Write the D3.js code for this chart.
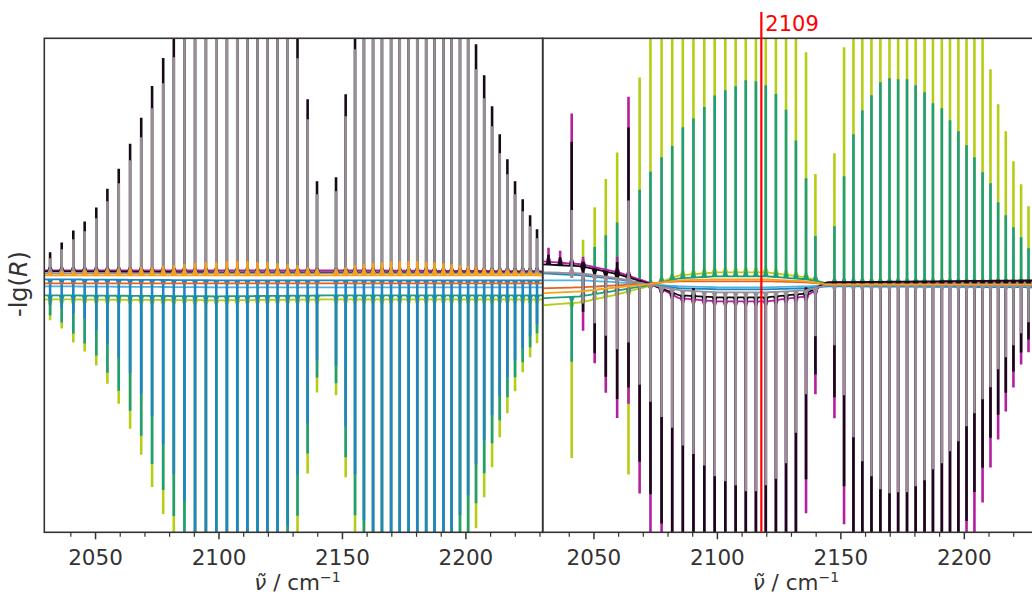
<!DOCTYPE html>
<html><head><meta charset="utf-8">
<script src="https://cdn.jsdelivr.net/npm/d3@7"></script>
<style>body{margin:0;background:#fff}svg{display:block}text{font-family:"DejaVu Sans",sans-serif}</style>
</head><body><svg id="c" width="1032" height="599"></svg>
<script>
// ---------------- DATA ----------------
const xDomain = [2029.45, 2231.3];
const majorTicks = [2050, 2100, 2150, 2200];
const minorTicks = [2040, 2060, 2070, 2080, 2090, 2110, 2120, 2130, 2140, 2160, 2170, 2180, 2190, 2210, 2220, 2230];
const markerPos = 2118;
const markerLabel = "2109";
const xLabel = "ν̃ / cm";
const yLabel = "-lg(R)";

// rovibrational line positions (P26..P1, R0..R24), cm-1
const linePos = [2031.8, 2036.5, 2041.2, 2045.8, 2050.5, 2055.0, 2059.6, 2064.2, 2068.7, 2073.1, 2077.6, 2081.9, 2086.2, 2090.5, 2094.9, 2099.1, 2103.4, 2107.6, 2111.7, 2115.8, 2119.8, 2123.9, 2128.0, 2132.0, 2136.1, 2139.9,
  2147.6, 2151.5, 2155.3, 2158.9, 2162.6, 2166.2, 2169.9, 2173.4, 2177.0, 2180.5, 2184.1, 2187.5, 2191.1, 2194.4, 2197.8, 2201.1, 2204.3, 2207.6, 2210.8, 2213.9, 2217.0, 2220.1, 2223.2, 2226.2, 2229.0];

// ---- left panel: baselines (arbitrary units) at anchor wavenumbers
const anchorsL = [2029, 2100, 2150, 2232];
const magentaBaseL = [15, 15, 15, 14];
const blackBaseL = [14, 13, 13, 13];
const grayBaseL = [12, 12, 12, 12];
const orangeBaseL = [10, 10, 10, 10];
const blueBaseL = [6, 5, 5, 5];
const darkorangeBaseL = [2, 2, 2, 2];
const lightblueBaseL = [-1, -2, -2, -2];
const tealBaseL = [-10, -11, -10, -10];
const ygBaseL = [-14, -15, -14, -14];
const grayUpL = [15, 24, 34, 42, 55, 72, 90, 113, 136, 165, 190, 216, 260, 300, 330, 360, 380, 390, 390, 380, 360, 330, 285, 215, 154, 79,
  82, 157, 224, 280, 330, 370, 395, 410, 410, 400, 385, 360, 330, 300, 270, 240, 204, 175, 147, 120, 99, 79, 62, 47, 35];
const blackUpL = [19, 29, 41, 50, 64, 83, 103, 128, 154, 186, 214, 248, 295, 340, 375, 405, 430, 440, 440, 430, 405, 375, 325, 250, 173, 91,
  95, 178, 255, 320, 375, 420, 445, 460, 460, 450, 435, 405, 375, 340, 305, 270, 228, 197, 166, 138, 113, 91, 73, 57, 43];
const orangeUpL = [3, 4, 4, 5, 5, 6, 6, 7, 8, 8, 9, 10, 11, 12, 13, 13, 14, 14, 14, 13, 13, 12, 11, 10, 8, 6,
  6, 8, 10, 11, 12, 13, 14, 14, 14, 14, 13, 13, 12, 11, 10, 9, 8, 7, 6, 6, 5, 5, 4, 4, 3];
const tealDownL = [20, 27, 38, 48, 60, 77, 95, 115, 140, 168, 194, 220, 250, 290, 320, 345, 360, 370, 370, 360, 340, 310, 270, 220, 158, 82,
  88, 162, 220, 275, 320, 350, 370, 380, 380, 372, 360, 340, 315, 290, 265, 245, 208, 178, 148, 125, 102, 82, 67, 52, 38];
const ygDownL = [21, 29, 43, 52, 66, 84, 104, 129, 155, 187, 214, 245, 275, 315, 345, 370, 385, 395, 395, 385, 365, 335, 295, 250, 174, 93,
  96, 178, 250, 300, 345, 375, 395, 405, 405, 398, 385, 365, 340, 315, 290, 265, 229, 198, 168, 138, 114, 92, 73, 58, 44];
const blueDownL = [26, 29, 34, 39, 51, 64, 78, 93, 114, 136, 164, 194, 221, 255, 285, 305, 320, 330, 330, 320, 305, 280, 245, 194, 143, 80,
  85, 146, 194, 240, 280, 305, 320, 330, 330, 325, 315, 300, 280, 258, 235, 215, 184, 160, 135, 116, 97, 80, 68, 56, 44];

// ---- right panel
const anchorsR = [2029, 2045, 2060, 2072, 2085, 2100, 2120, 2136, 2145, 2232];
const magentaBaseR = [24, 21, 13, 3, -13, -16, -16, -11, 3, 4];
const blackBaseR = [21, 19, 11, 2, -10, -12, -12, -8, 3, 5];
const grayBaseR = [13, 12, 7, 1, -5, -7, -7, -5, 0, 0];
const blueBaseR = [12, 10, 6, 1, -3, -4, -4, -3, -1, -2];
const lightblueBaseR = [5, 5, 3, 1, -1, -2, -2, -1, 0, 0];
const darkorangeBaseR = [-3, -2, 0, 2, 4, 4, 4, 3, 1, 1];
const orangeBaseR = [-8, -6, -2, 1, 5, 6, 6, 4, 1, 1];
const tealBaseR = [-13, -11, -5, 0, 7, 9, 9, 6, 2, 2];
const ygBaseR = [-20, -17, -9, -1, 10, 13, 13, 8, 2, 2];

const magentaUpR = [14, 12, 150, 8, 0, 0, 15, 179, 0, 0, 0, 0, 0, 10, 0, 0, 0, 0, 0, 0, 0, 0, 0, 0, 8, 0,
  0, 0, 0, 0, 0, 0, 0, 0, 0, 0, 0, 0, 0, 0, 0, 0, 0, 0, 0, 0, 0, 0, 0, 0, 0];
const magentaDownR = [0, 0, 0, 66, 96, 123, 146, 128, 214, 250, 285, 320, 350, 380, 400, 420, 430, 440, 440, 430, 420, 400, 370, 330, 217, 104,
  136, 242, 300, 350, 390, 420, 440, 445, 445, 440, 425, 405, 380, 350, 320, 290, 255, 221, 186, 158, 130, 106, 83, 71, 60];
const blackUpR = [10, 8, 124, 5, 0, 0, 12, 150, 0, 0, 0, 0, 0, 8, 0, 0, 0, 0, 0, 0, 0, 0, 0, 0, 6, 0,
  0, 0, 0, 0, 0, 0, 0, 0, 0, 0, 0, 0, 0, 0, 0, 0, 0, 0, 0, 0, 0, 0, 0, 0, 0];
const blackDownR = [0, 0, 0, 45, 84, 105, 125, 110, 181, 210, 235, 265, 290, 315, 335, 350, 360, 365, 365, 360, 350, 335, 310, 270, 186, 86,
  115, 204, 265, 290, 325, 350, 365, 370, 370, 365, 355, 340, 320, 295, 270, 240, 211, 187, 157, 134, 112, 91, 72, 59, 48];
const grayUpR = [0, 0, 63, 0, 0, 0, 0, 80, 0, 0, 0, 0, 0, 0, 0, 0, 0, 0, 0, 0, 0, 0, 0, 0, 0, 0,
  0, 0, 0, 0, 0, 0, 0, 0, 0, 0, 0, 0, 0, 0, 0, 0, 0, 0, 0, 0, 0, 0, 0, 0, 0];
const grayDownR = [0, 0, 5, 30, 48, 59, 71, 62, 102, 117, 130, 139, 155, 163, 174, 184, 189, 193, 199, 199, 193, 187, 172, 142, 104, 48,
  60, 110, 152, 176, 191, 204, 208, 207, 207, 201, 195, 184, 178, 166, 156, 141, 128, 114, 102, 84, 72, 60, 48, 37, 28];
const tealUpR = [0, 0, 0, 32, 47, 57, 68, 0, 97, 113, 125, 134, 151, 159, 170, 181, 186, 190, 196, 195, 191, 183, 168, 138, 101, 45,
  57, 107, 149, 173, 188, 201, 205, 204, 204, 198, 191, 180, 175, 163, 152, 138, 126, 111, 100, 81, 68, 56, 46, 35, 27];
const tealDownR = [0, 0, 65, 0, 0, 0, 0, 62, 0, 0, 0, 0, 0, 0, 0, 0, 0, 0, 0, 0, 0, 0, 0, 0, 0, 0,
  0, 0, 0, 0, 0, 0, 0, 0, 0, 0, 0, 0, 0, 0, 0, 0, 0, 0, 0, 0, 0, 0, 0, 0, 0];
const ygUpR = [0, 0, 0, 62, 92, 118, 142, 0, 211, 247, 280, 310, 340, 370, 395, 415, 425, 435, 440, 435, 425, 405, 375, 330, 225, 106,
  130, 236, 300, 345, 380, 410, 425, 430, 430, 420, 410, 395, 380, 355, 330, 300, 275, 250, 214, 179, 152, 122, 99, 77, 60];
const ygDownR = [0, 0, 155, 0, 0, 0, 0, 183, 0, 0, 0, 0, 0, 0, 0, 0, 0, 0, 0, 0, 0, 0, 0, 0, 0, 0,
  0, 0, 0, 0, 0, 0, 0, 0, 0, 0, 0, 0, 0, 0, 0, 0, 0, 0, 0, 0, 0, 0, 0, 0, 0];

// ---------------- STYLE ----------------
const colors = {
  yg: "#b5cd14", teal: "#1f9e7b", lightblue: "#4fb2e2", blue: "#1f86c3",
  darkorange: "#e8621c", magenta: "#b41f9f", black: "#160a16", gray: "#978e96", orange: "#f7a11a"
};
const order = ["yg", "teal", "lightblue", "blue", "darkorange", "magenta", "black", "gray", "orange"];

const panelsData = [
  { anchors: anchorsL, series: {
      yg: {base: ygBaseL, down: ygDownL}, teal: {base: tealBaseL, down: tealDownL},
      lightblue: {base: lightblueBaseL}, blue: {base: blueBaseL, down: blueDownL},
      darkorange: {base: darkorangeBaseL}, magenta: {base: magentaBaseL},
      black: {base: blackBaseL, up: blackUpL}, gray: {base: grayBaseL, up: grayUpL},
      orange: {base: orangeBaseL, up: orangeUpL} } },
  { anchors: anchorsR, series: {
      yg: {base: ygBaseR, up: ygUpR, down: ygDownR}, teal: {base: tealBaseR, up: tealUpR, down: tealDownR},
      lightblue: {base: lightblueBaseR}, blue: {base: blueBaseR},
      darkorange: {base: darkorangeBaseR}, magenta: {base: magentaBaseR, up: magentaUpR, down: magentaDownR},
      black: {base: blackBaseR, up: blackUpR, down: blackDownR}, gray: {base: grayBaseR, up: grayUpR, down: grayDownR},
      orange: {base: orangeBaseR} } }
];

// ---------------- DRAW ----------------
const svg = d3.select("#c");
const plotTop = 38.3, plotBottom = 532.3;
const panelX = [[44.3, 542.7], [542.7, 1041.1]];
const y = d3.scaleLinear().domain([-247, 247]).range([plotBottom, plotTop]);
const axisColor = "#333";
const fontSize = 21.5;

panelsData.forEach((pd, pi) => {
  const [x0, x1] = panelX[pi];
  const x = d3.scaleLinear().domain(xDomain).range([x0, x1]);
  const clipId = "clip" + pi;
  svg.append("clipPath").attr("id", clipId).append("rect")
    .attr("x", x0).attr("y", plotTop).attr("width", x1 - x0).attr("height", plotBottom - plotTop);
  const g = svg.append("g").attr("clip-path", `url(#${clipId})`);

  order.forEach(key => {
    const s = pd.series[key];
    if (!s) return;
    const col = colors[key];
    const base = d3.scaleLinear().domain(pd.anchors).range(s.base).clamp(true);
    const xs = Array.from(new Set([...pd.anchors, ...linePos])).sort((a, b) => a - b);
    const pts = xs.map(v => [v, base(v)]);
    const sg = g.append("g");
    sg.append("path")
      .attr("d", d3.line().x(d => x(d[0])).y(d => y(d[1])).curve(d3.curveMonotoneX)(pts))
      .attr("fill", "none").attr("stroke", col).attr("stroke-width", 1.8);
    const spikes = linePos.map((v, i) => ({v, up: s.up ? s.up[i] : 0, dn: s.down ? s.down[i] : 0}))
      .filter(d => d.up > 0 || d.dn > 0);
    sg.selectAll("path.spk").data(spikes).join("path").attr("class", "spk")
      .attr("fill", col)
      .attr("d", d => {
        const b = base(d.v), px = x(d.v), yb = y(b), yt = y(b + d.up), ybt = y(b - d.dn);
        const hw = 1.3, fw = 3.0;
        const fu = Math.min(5, yb - yt), fd = Math.min(5, ybt - yb);
        return `M${px - fw},${yb}L${px - hw},${yb - fu}L${px - hw},${yt}L${px + hw},${yt}L${px + hw},${yb - fu}L${px + fw},${yb}` +
               `L${px + hw},${yb + fd}L${px + hw},${ybt}L${px - hw},${ybt}L${px - hw},${yb + fd}Z`;
      });
  });

  svg.append("rect").attr("x", x0).attr("y", plotTop).attr("width", x1 - x0).attr("height", plotBottom - plotTop)
    .attr("fill", "none").attr("stroke", axisColor).attr("stroke-width", 1.6);

  const ax = svg.append("g").attr("transform", `translate(0,${plotBottom})`)
    .call(d3.axisBottom(x).tickValues(majorTicks).tickSize(7).tickPadding(10).tickFormat(d3.format("d")));
  ax.select(".domain").remove();
  ax.selectAll("line").attr("stroke", axisColor).attr("stroke-width", 1.5);
  ax.selectAll("text").attr("font-size", fontSize).attr("fill", axisColor).attr("font-family", "DejaVu Sans");
  const axm = svg.append("g").attr("transform", `translate(0,${plotBottom})`)
    .call(d3.axisBottom(x).tickValues(minorTicks).tickSize(4.5).tickFormat(""));
  axm.select(".domain").remove();
  axm.selectAll("line").attr("stroke", axisColor).attr("stroke-width", 1.2);

  const t = svg.append("text").attr("x", (x0 + x1) / 2 + 4).attr("y", 590)
    .attr("text-anchor", "middle").attr("font-size", fontSize).attr("fill", axisColor);
  t.append("tspan").attr("font-style", "italic").text(xLabel.slice(0, 2));
  t.append("tspan").text(xLabel.slice(2));
  t.append("tspan").attr("font-size", 14).attr("dy", -8).text("−1");

  if (pi === 0) {
    const yl = svg.append("text").attr("transform", "translate(27,284) rotate(-90)")
      .attr("text-anchor", "middle").attr("font-size", 24).attr("fill", axisColor);
    yl.append("tspan").text(yLabel.slice(0, 4));
    yl.append("tspan").attr("font-style", "italic").text(yLabel.slice(4, 5));
    yl.append("tspan").text(yLabel.slice(5));
  } else {
    const mx = x(markerPos);
    svg.append("line").attr("x1", mx).attr("x2", mx).attr("y1", 12).attr("y2", plotBottom)
      .attr("stroke", "#ff0000").attr("stroke-width", 2.2);
    svg.append("text").attr("x", mx + 4).attr("y", 31).attr("font-size", 21).attr("fill", "#ff0000").text(markerLabel);
  }
});
</script></body></html>
